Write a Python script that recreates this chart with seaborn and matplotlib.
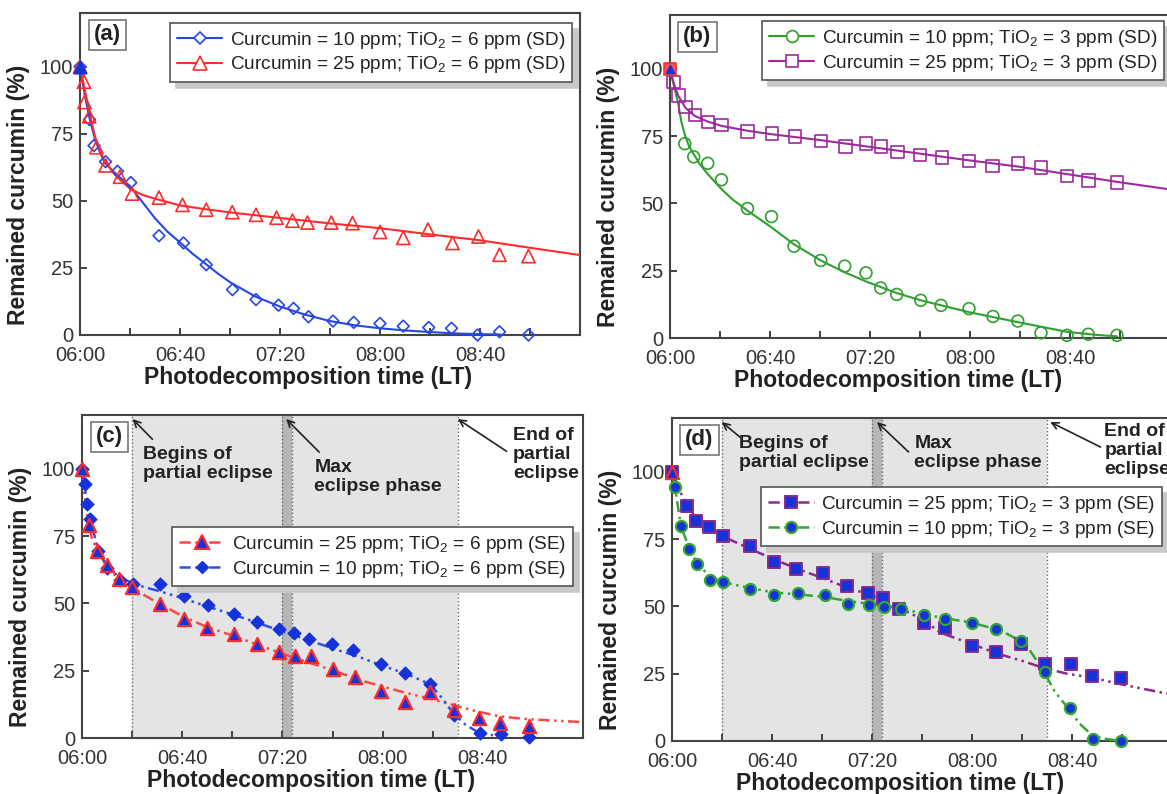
import matplotlib
matplotlib.use("Agg")
import matplotlib.pyplot as plt
from matplotlib.lines import Line2D
import seaborn as sns

# ---------------- data: minutes after 06:00 LT, remained curcumin (%) ----------------
# (a) sun day, TiO2 = 6 ppm
a10_t = [0, 3.8, 5.6, 10.2, 15, 20.3, 31.6, 41.4, 50.5, 61, 70.4, 79.4, 85.4, 91.4, 101.2, 109.5, 120, 129.3, 139.5, 148.6, 159, 167.8, 179.4]
a10_v = [100, 80.3, 70.6, 64.6, 61, 56.8, 37, 34.3, 26.2, 16.9, 13.2, 11.1, 9.9, 6.8, 5.2, 4.7, 4.3, 3.3, 2.8, 2.5, 0, 1.2, 0]
a25_t = [0, 1.6, 1.8, 3.7, 6.6, 10.2, 16, 20.8, 31.6, 41, 50.5, 60.9, 70.4, 78.6, 85, 91, 100.5, 109, 120, 129.3, 139.2, 149, 159.4, 167.8, 179.4]
a25_v = [100, 94.4, 86.8, 81.5, 70, 63.2, 59, 52.7, 51.2, 48.5, 46.7, 45.8, 44.8, 43.7, 42.6, 41.9, 41.9, 41.7, 38.4, 36.2, 39.3, 34.3, 36.7, 29.9, 29.4]
fa10_t = [0, 2, 4, 6, 8, 10, 15, 20, 25, 30, 35, 40, 45, 50, 55, 60, 70, 80, 90, 100, 110, 120, 130, 140, 150, 160, 168]
fa10_v = [100, 89, 80, 73, 68, 64, 59.5, 55.5, 49.5, 43.5, 38.5, 34.5, 30.3, 26.7, 23, 19.7, 14.4, 10.6, 7.6, 5.2, 3.6, 2.5, 1.7, 1.1, 0.6, 0.3, 0.2]
fa25_t = [0, 2, 4, 6, 8, 10, 15, 20, 25, 30, 40, 50, 60, 80, 100, 120, 140, 160, 180, 200]
fa25_v = [100, 91, 82, 74, 68.5, 64.5, 58.7, 54.5, 52.2, 50.8, 48.3, 46.9, 45.7, 43.6, 41.6, 39.8, 37.5, 35.3, 32.5, 29.8]

# (b) sun day, TiO2 = 3 ppm
b10_t = [5.9, 9.5, 15.1, 20.6, 31, 40.6, 49.6, 60.3, 69.9, 78.4, 84.3, 90.7, 100.3, 108.4, 119.6, 129.2, 139.1, 148.4, 158.8, 167.3, 178.8]
b10_v = [72.2, 67.3, 64.9, 58.8, 48.1, 45.1, 34.1, 28.8, 26.7, 24.2, 18.6, 16.2, 14, 12.1, 10.9, 8, 6.3, 1.9, 1, 1.4, 1]
b25_t = [1.3, 3.3, 6.2, 9.9, 15.1, 20.6, 31, 40.7, 49.9, 60.3, 70.2, 78.4, 84.3, 91, 99.9, 108.7, 119.6, 128.9, 139.1, 148.4, 158.8, 167.3, 178.8]
b25_v = [95.1, 90.1, 85.8, 82.8, 80.2, 79.1, 76.7, 75.9, 74.9, 73.2, 71.2, 72.2, 71.1, 69.1, 67.9, 67, 65.7, 63.9, 64.9, 63.3, 60.2, 58.6, 57.8]
fb10_t = [0, 1, 2, 3.3, 4.5, 5.9, 7.5, 9.5, 12, 15.1, 20.6, 25, 31, 40.6, 49.6, 60.3, 69.9, 78.4, 90.7, 100.3, 119.6, 139.1, 158.8, 170, 178.8]
fb10_v = [100, 96, 92, 87, 80.5, 75.6, 71.5, 68.3, 64.5, 60.9, 55.3, 51.5, 47.3, 41.1, 34.8, 28.8, 24.4, 21, 16.7, 14, 9.6, 5.9, 2.3, 1.2, 0.6]
fb25_t = [0, 1.3, 3.3, 6.2, 9.9, 15.1, 20.6, 31, 40.7, 60.3, 78.4, 99.9, 119.6, 139.1, 158.8, 178.8, 200]
fb25_v = [100, 95.1, 90, 85.5, 82.5, 80.4, 78.8, 77, 75.7, 73.5, 71.2, 68.5, 66, 63.7, 60.9, 58, 55.2]

# (c) solar eclipse, TiO2 = 6 ppm
c25_t = [0, 2.6, 6, 9.8, 14.6, 19.8, 31.1, 40.6, 49.9, 60.5, 70, 78.5, 85, 91.3, 100.3, 108.9, 119.4, 128.9, 139, 148.4, 158.5, 166.9, 178.5]
c25_v = [100, 79.3, 69.6, 64.3, 59, 56.1, 49.6, 44.3, 40.7, 38.7, 35.1, 32.1, 30.5, 30.3, 25.8, 22.5, 17.6, 13.5, 17, 10.5, 7.4, 5.7, 4.3]
c10_t = [0, 1.2, 1.8, 3.3, 6.3, 9.8, 15.3, 20.2, 31.1, 40.6, 50.2, 60.5, 70, 78.5, 84.5, 90.5, 99.8, 108.3, 119.4, 128.9, 139, 148.4, 158.7, 167.2, 178.5]
c10_v = [100, 94.2, 86.8, 81.2, 69.6, 63.1, 58.8, 57.2, 57.2, 52.6, 49.3, 45.9, 43, 40.6, 38.9, 36.7, 34.8, 32.7, 27.4, 24, 20, 8.4, 1.9, 1.6, 0.2]
fc25_t = [0, 1, 2.6, 4, 6, 9.8, 14.6, 19.8, 25, 31.1, 40.6, 50, 60.5, 70, 80, 90, 100, 111, 120, 130, 139, 148, 158, 167, 178, 190, 200]
fc25_v = [100, 90, 79.5, 74, 70, 64, 59, 56, 53, 49.8, 45, 41.2, 37.9, 34.7, 31.3, 28.2, 25.2, 21.5, 19.1, 16.6, 14.6, 12.3, 9.8, 8, 7, 6.4, 5.9]
fc10_t = [0, 1.2, 1.8, 3.3, 6.3, 9.8, 15.3, 20.2, 25, 31.1, 40.6, 50.2, 60.5, 70, 80, 90, 100, 111, 119.4, 129, 139, 144, 148.2, 153, 158, 164]
fc10_v = [100, 94, 87, 81.2, 70.5, 63.8, 59.5, 57.5, 56, 54.5, 51.8, 48.8, 45.8, 42.8, 39.6, 36.5, 33.3, 30, 27, 24, 20, 14.5, 9.2, 5, 2.2, 1]

# (d) solar eclipse, TiO2 = 3 ppm
d25_t = [0, 6, 9.4, 14.9, 20.4, 31, 40.7, 49.6, 60.3, 70, 78.5, 84.2, 90.9, 100.6, 109.1, 120, 129.6, 139.6, 149, 159.5, 168, 179.6]
d25_v = [100, 87.3, 81.9, 79.5, 76.3, 72.3, 66.5, 64, 62.5, 57.6, 55.1, 53, 49, 43.7, 41.9, 35.2, 33.2, 36, 28.7, 28.7, 24, 23.5]
d10_t = [1.2, 3.5, 6.7, 10, 15.3, 20.4, 31.3, 40.7, 50.2, 61.1, 70.3, 78.7, 84.9, 91.4, 100.6, 109.1, 120, 129.6, 139.6, 149.3, 159.1, 168.4, 179.6]
d10_v = [94.5, 79.7, 71.5, 65.6, 59.7, 59, 56.6, 54.1, 55.1, 54.2, 50.8, 50.6, 49.9, 49, 46.7, 45.5, 44, 41.6, 37.3, 25.6, 12.1, 0.6, 0]
fd25_t = [0, 3, 6, 9.4, 14.9, 20.4, 31, 40.7, 50, 60.3, 70, 78.5, 84.2, 90.9, 100.6, 107.2, 120, 130, 140, 148.5, 158, 167.2, 180, 197.9, 200]
fd25_v = [100, 93, 88, 83, 79, 76, 71.5, 67.5, 64, 60.5, 57, 54.5, 52.5, 49.5, 45, 40.3, 36, 32.5, 29.8, 27.2, 25, 23.7, 21, 17.6, 17.3]
fd10_t = [0, 1.2, 3.5, 6.7, 10, 15.3, 20.4, 31.3, 40.7, 50.2, 61.1, 70.3, 78.7, 84.9, 91.4, 100.6, 107.2, 119.9, 129.2, 134, 139.2, 143.2, 148.5, 153, 158.5, 163, 167.9, 172, 179.2]
fd10_v = [100, 94.5, 80, 72, 66, 61, 59, 56.8, 55.2, 54.5, 53.5, 52, 51, 50.2, 49.2, 47.3, 45.9, 44, 41.6, 39.8, 37.3, 33.6, 26.2, 18.5, 12.1, 6.5, 2.2, 1.0, 0]

start_t = [0]
start_v = [100]

# eclipse timing (minutes after 06:00)
eclipse_begin = 20
eclipse_max = [80, 84]
eclipse_end = 150

xtick_pos = [0, 40, 80, 120, 160]
xtick_labels = ["06:00", "06:40", "07:20", "08:00", "08:40"]
xminor_pos = [20, 60, 100, 140, 180]
ytick_pos = [0, 25, 50, 75, 100]

lab_a = ["Curcumin = 10 ppm; TiO$_2$ = 6 ppm (SD)", "Curcumin = 25 ppm; TiO$_2$ = 6 ppm (SD)"]
lab_b = ["Curcumin = 10 ppm; TiO$_2$ = 3 ppm (SD)", "Curcumin = 25 ppm; TiO$_2$ = 3 ppm (SD)"]
lab_c = ["Curcumin = 25 ppm; TiO$_2$ = 6 ppm (SE)", "Curcumin = 10 ppm; TiO$_2$ = 6 ppm (SE)"]
lab_d = ["Curcumin = 25 ppm; TiO$_2$ = 3 ppm (SE)", "Curcumin = 10 ppm; TiO$_2$ = 3 ppm (SE)"]

# ---------------- style ----------------
sns.set_theme(style="ticks")
plt.rcParams["font.family"] = ["Liberation Sans", "DejaVu Sans"]
plt.rcParams["mathtext.fontset"] = "custom"
plt.rcParams["mathtext.rm"] = "Liberation Sans"
plt.rcParams["mathtext.it"] = "Liberation Sans:italic"
plt.rcParams["mathtext.bf"] = "Liberation Sans:bold"
plt.rcParams["mathtext.default"] = "regular"

BLUE_A, RED_A = "#2646e6", "#ff2a2a"
GREEN, PURPLE = "#2ea02e", "#9c2a9c"
RED_C, BLUE_C = "#ff4646", "#3050e0"
FILL = "#1533d8"
DDOT = (0, (4.5, 1.8, 1, 1.8, 1, 1.8))
TXT = "#222222"

W, H = 1167, 794
fig = plt.figure(figsize=(W / 100, H / 100), dpi=100)


def add_ax(l, t, r, b):
    return fig.add_axes([l / W, 1 - b / H, (r - l) / W, (b - t) / H])


ax_a = add_ax(80, 13, 580, 335)
ax_b = add_ax(670, 15, 1170, 338)
ax_c = add_ax(82, 415, 583, 738)
ax_d = add_ax(672, 418, 1172, 741)


def style(ax, letter):
    ax.set_xlim(0, 200)
    ax.set_ylim(0, 120)
    ax.set_xticks(xtick_pos)
    ax.set_xticklabels(xtick_labels)
    ax.set_xticks(xminor_pos, minor=True)
    ax.set_yticks(ytick_pos)
    ax.tick_params(which="both", direction="in", length=5, width=1.3, color="#333333",
                   labelsize=14.5, labelcolor="#333333")
    ax.tick_params(axis="x", which="both", pad=8, top=False)
    ax.tick_params(axis="y", pad=5, right=False)
    for s in ax.spines.values():
        s.set_color("#444444")
        s.set_linewidth(1.5)
    ax.set_xlabel("Photodecomposition time (LT)", fontsize=16.5, fontweight="bold", color=TXT)
    ax.set_ylabel("Remained curcumin (%)", fontsize=16.5, fontweight="bold", color=TXT)
    ax.xaxis.set_label_coords(0.457, -0.097)
    ax.yaxis.set_label_coords(-0.1, 0.436)
    ax.text(0.055, 0.932, f"({letter})", transform=ax.transAxes, ha="center", va="center",
            fontsize=16, fontweight="bold", color=TXT, zorder=6,
            bbox=dict(boxstyle="square,pad=0.22", fc="white", ec="#777777", lw=1.2))


def fit(ax, t, v, color, ls="-", lw=1.5):
    sns.lineplot(x=t, y=v, ax=ax, color=color, linestyle=ls, linewidth=lw,
                 estimator=None, sort=False, zorder=3)


def pts(ax, t, v, marker, size, fc, ec, lw=1.2, z=4):
    sns.scatterplot(x=t, y=v, ax=ax, marker=marker, s=size, facecolor=fc, edgecolor=ec,
                    linewidth=lw, zorder=z, clip_on=False, legend=False)


def legend(ax, specs, labels, anchor):
    handles = [Line2D([0], [0], color=c, lw=lw, ls=ls, marker=m, ms=ms, mfc=fc, mec=ec, mew=mew)
               for (c, lw, ls, m, ms, fc, ec, mew) in specs]
    leg = ax.legend(handles, labels, loc="upper right", bbox_to_anchor=anchor, fontsize=13.7,
                    frameon=True, fancybox=False, framealpha=1, edgecolor="#555555",
                    shadow={"ox": 4, "oy": -4, "color": "#c8c8c8", "alpha": 1},
                    borderpad=0.35, labelspacing=0.2, handlelength=2.4, handletextpad=0.4,
                    borderaxespad=0)
    leg.get_frame().set_linewidth(1.2)
    for txt in leg.get_texts():
        txt.set_color(TXT)
    leg.set_zorder(7)


def eclipse(ax, texts):
    ax.axvspan(eclipse_begin, eclipse_end, color="#e4e4e4", zorder=0, lw=0)
    ax.axvspan(eclipse_max[0], eclipse_max[1], color="#b6b6b6", zorder=0.5, lw=0)
    for xv in [eclipse_begin, eclipse_max[0], eclipse_max[1], eclipse_end]:
        ax.axvline(xv, color="#666666", ls=":", lw=1.0, zorder=1)
    for (tx, ty, s, tail, head) in texts:
        ax.text(tx, ty, s, fontsize=14, fontweight="bold", color=TXT, ha="left", va="top",
                linespacing=1.15, zorder=5)
        ax.annotate("", xy=head, xytext=tail,
                    arrowprops=dict(arrowstyle="->", color="#222222", lw=1.2,
                                    shrinkA=0, shrinkB=0), zorder=5)


# ---------------- (a) ----------------
style(ax_a, "a")
fit(ax_a, fa10_t, fa10_v, BLUE_A)
fit(ax_a, fa25_t, fa25_v, RED_A)
pts(ax_a, a10_t, a10_v, "D", 36, "none", BLUE_A)
pts(ax_a, a25_t, a25_v, "^", 90, "none", RED_A)
pts(ax_a, start_t, start_v, "^", 80, FILL, FILL, z=5)
legend(ax_a, [(BLUE_A, 1.5, "-", "D", 6, "white", BLUE_A, 1.2),
              (RED_A, 1.5, "-", "^", 9.5, "white", RED_A, 1.2)], lab_a, (0.984, 0.969))

# ---------------- (b) ----------------
style(ax_b, "b")
fit(ax_b, fb10_t, fb10_v, GREEN)
fit(ax_b, fb25_t, fb25_v, PURPLE)
pts(ax_b, b10_t, b10_v, "o", 72, "none", GREEN)
pts(ax_b, b25_t, b25_v, "s", 81, "none", PURPLE)
pts(ax_b, start_t, start_v, "s", 81, "#ff5050", "#ff3030", z=5)
pts(ax_b, start_t, start_v, "^", 30, FILL, FILL, z=6)
legend(ax_b, [(GREEN, 1.5, "-", "o", 8.5, "white", GREEN, 1.2),
              (PURPLE, 1.5, "-", "s", 9, "white", PURPLE, 1.2)], lab_b, (0.988, 0.981))

# ---------------- (c) ----------------
style(ax_c, "c")
eclipse(ax_c, [
    (24.4, 108.5, "Begins of\npartial eclipse", (28.1, 111), (20.2, 118.5)),
    (92.8, 103.5, "Max\neclipse phase", (94.7, 106.2), (81.5, 118.5)),
    (172, 115.5, "End of\npartial\neclipse", (169.5, 106.5), (150, 118.5)),
])
fit(ax_c, fc25_t, fc25_v, RED_C, DDOT, 1.8)
fit(ax_c, fc10_t, fc10_v, BLUE_C, DDOT, 1.8)
pts(ax_c, c10_t, c10_v, "D", 42, FILL, FILL, 1.0)
pts(ax_c, c25_t, c25_v, "^", 90, FILL, "#ff2a2a", 1.6, z=5)
legend(ax_c, [(RED_C, 1.8, DDOT, "^", 9.5, FILL, "#ff2a2a", 1.6),
              (BLUE_C, 1.8, DDOT, "D", 6.5, FILL, FILL, 1.0)], lab_c, (0.98, 0.653))

# ---------------- (d) ----------------
style(ax_d, "d")
eclipse(ax_d, [
    (26.8, 113.5, "Begins of\npartial eclipse", (27.2, 112.9), (19.9, 118.5)),
    (96.9, 113.5, "Max\neclipse phase", (94.6, 107.4), (82, 118.5)),
    (172.9, 118, "End of\npartial\neclipse", (171.4, 109.2), (151.3, 118.5)),
])
fit(ax_d, fd25_t, fd25_v, "#8a2a8a", DDOT, 1.8)
fit(ax_d, fd10_t, fd10_v, "#33a633", DDOT, 1.8)
pts(ax_d, d25_t, d25_v, "s", 72, FILL, "#8a2a8a", 1.4)
pts(ax_d, d10_t, d10_v, "o", 64, FILL, "#33a633", 1.6, z=5)
pts(ax_d, start_t, start_v, "^", 90, FILL, "#ff2a2a", 1.6, z=6)
legend(ax_d, [("#8a2a8a", 1.8, DDOT, "s", 8.5, FILL, "#8a2a8a", 1.4),
              ("#33a633", 1.8, DDOT, "o", 8, FILL, "#33a633", 1.6)], lab_d, (0.98, 0.786))

fig.savefig("out.png", dpi=100)
